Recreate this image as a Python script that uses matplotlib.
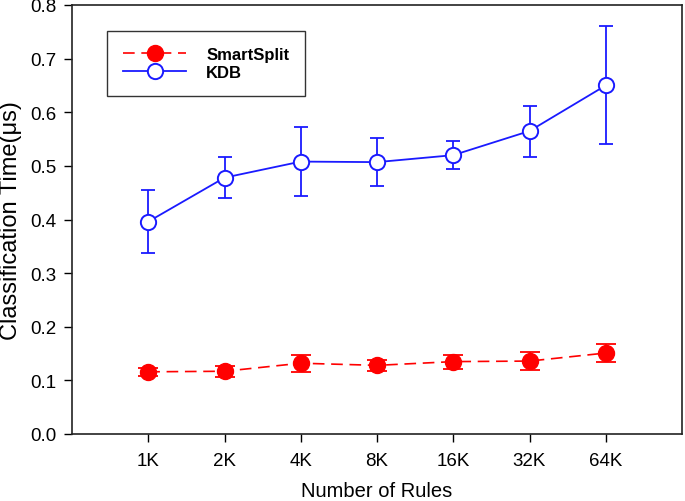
import matplotlib
matplotlib.use("Agg")
import matplotlib.pyplot as plt
import numpy as np

plt.rcParams['font.family'] = ['Liberation Sans', 'DejaVu Sans']

categories = ["1K", "2K", "4K", "8K", "16K", "32K", "64K"]
smartsplit = [0.116, 0.117, 0.132, 0.128, 0.135, 0.136, 0.151]
smartsplit_lo = [0.108, 0.107, 0.116, 0.118, 0.122, 0.119, 0.134]
smartsplit_hi = [0.124, 0.127, 0.148, 0.138, 0.148, 0.153, 0.168]
kdb = [0.396, 0.478, 0.508, 0.507, 0.520, 0.565, 0.650]
kdb_lo = [0.338, 0.441, 0.444, 0.462, 0.495, 0.516, 0.541]
kdb_hi = [0.455, 0.516, 0.572, 0.552, 0.546, 0.612, 0.760]

x = np.arange(1, len(categories) + 1)
red = '#ff0000'
blue = '#1a1aff'

fig = plt.figure(figsize=(6.85, 5.02), dpi=100)
ax = fig.add_axes([72/685, 67/502, 610/685, 429/502])

ss_err = [np.array(smartsplit) - np.array(smartsplit_lo), np.array(smartsplit_hi) - np.array(smartsplit)]
kdb_err = [np.array(kdb) - np.array(kdb_lo), np.array(kdb_hi) - np.array(kdb)]

ax.errorbar(x, smartsplit, yerr=ss_err, fmt='none', ecolor=red, elinewidth=1.3, capsize=7, capthick=1.3, zorder=2)
ax.plot(x, smartsplit, color=red, lw=1.2, dashes=(7, 4), marker='o', ms=11.5, mfc=red, mec=red,
        label='SmartSplit', zorder=3)
ax.errorbar(x, kdb, yerr=kdb_err, fmt='none', ecolor=blue, elinewidth=1.3, capsize=4.7, capthick=1.3, zorder=2)
ax.plot(x, kdb, color=blue, lw=1.3, marker='o', ms=11, mfc='white', mec=blue, mew=1.4,
        label='KDB', zorder=3)

ax.set_xlim(0, 8)
ax.set_ylim(0, 0.8)
ax.set_xticks(x)
ax.set_xticklabels(categories)
ax.set_yticks(np.arange(0, 0.81, 0.1))
ax.set_yticklabels([f"{v:.1f}" for v in np.arange(0, 0.81, 0.1)])
ax.tick_params(axis='x', direction='out', length=6, width=1, pad=7, labelsize=13.5)
ax.tick_params(axis='y', direction='out', length=6, width=1, pad=5, labelsize=13.5)
for s in ax.spines.values():
    s.set_linewidth(1.2)
    s.set_color('#222222')

ax.set_xlabel('Number of Rules', fontsize=14.5, labelpad=8.5)
ax.set_ylabel('Classification Time(μs)', fontsize=17, labelpad=6)

leg = ax.legend(loc='upper left', bbox_to_anchor=((107-72)/610, (435-32)/429), borderaxespad=0,
                frameon=True, fancybox=False, edgecolor='black', handlelength=3.8, handletextpad=1.2,
                prop={'weight': 'bold', 'size': 12}, borderpad=0.95, labelspacing=0.2)
leg.get_frame().set_linewidth(1.0)

fig.savefig('out.png', dpi=100)
